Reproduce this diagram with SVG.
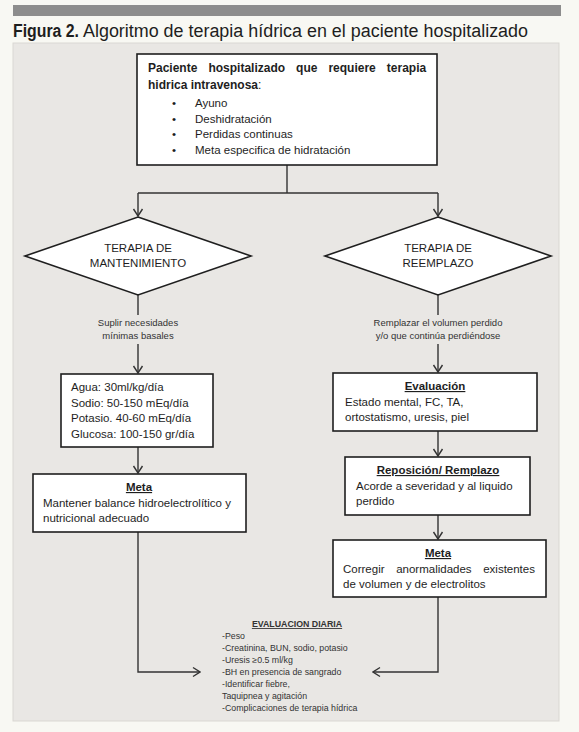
<svg xmlns="http://www.w3.org/2000/svg" width="579" height="732" viewBox="0 0 579 732">
<style>
text{font-family:"Liberation Sans",Arial,sans-serif;fill:#1e1e1e}
.box{fill:#ffffff;stroke:#1f1f1f;stroke-width:1.6}
.t{font-size:11.5px}
.b{font-weight:bold}
.u{text-decoration:underline}
.c{text-anchor:middle}
.lab{font-size:9.5px;fill:#333}
.sm{font-size:8.8px;fill:#333}
.con{fill:none;stroke:#333;stroke-width:1.4}
</style>
<defs>
<marker id="ar" viewBox="-9 -6 10 12" refX="0" refY="0" markerWidth="10" markerHeight="12" markerUnits="userSpaceOnUse" orient="auto">
<path d="M-7,-4.5 L0,0 L-7,4.5" fill="none" stroke="#333" stroke-width="1.4"/>
</marker>
</defs>
<rect x="0" y="0" width="579" height="732" fill="#f8f8f3"/>
<rect x="13" y="5" width="548" height="11" fill="#8d8d8d"/>
<text x="13" y="37" font-size="18" font-weight="bold" textLength="66" lengthAdjust="spacingAndGlyphs">Figura 2.</text>
<text x="83" y="37" font-size="18" textLength="445" lengthAdjust="spacingAndGlyphs">Algoritmo de terapia hídrica en el paciente hospitalizado</text>
<rect x="13" y="43" width="546" height="678" fill="#e9e7e4" stroke="#d9d7d3" stroke-width="1"/>

<g id="connectors">
<path class="con" d="M287,165 V193"/>
<path class="con" d="M138,193 H438"/>
<path class="con" d="M138,193 V216" marker-end="url(#ar)"/>
<path class="con" d="M438,193 V216" marker-end="url(#ar)"/>
<path class="con" d="M138,295 V315"/>
<path class="con" d="M138,344 V373" marker-end="url(#ar)"/>
<path class="con" d="M138,447 V473" marker-end="url(#ar)"/>
<path class="con" d="M138,532 V672 H200" marker-end="url(#ar)"/>
<path class="con" d="M438,295 V315"/>
<path class="con" d="M438,344 V372" marker-end="url(#ar)"/>
<path class="con" d="M438,431 V456" marker-end="url(#ar)"/>
<path class="con" d="M438,515 V539" marker-end="url(#ar)"/>
<path class="con" d="M438,597 V672 H373" marker-end="url(#ar)"/>
</g>

<g id="start">
<rect class="box" x="137" y="54" width="300" height="111"/>
<text class="b" font-size="12" y="72"><tspan x="148">Paciente</tspan><tspan x="208.4">hospitalizado</tspan><tspan x="296.1">que</tspan><tspan x="328.4">requiere</tspan><tspan x="386.8">terapia</tspan></text>
<text font-size="12" x="148" y="89"><tspan font-weight="bold">hidrica intravenosa</tspan>:</text>
<text class="t" x="172" y="107">•</text><text class="t" x="195" y="107">Ayuno</text>
<text class="t" x="172" y="122.5">•</text><text class="t" x="195" y="122.5">Deshidratación</text>
<text class="t" x="172" y="138">•</text><text class="t" x="195" y="138">Perdidas continuas</text>
<text class="t" x="172" y="153.5">•</text><text class="t" x="195" y="153.5">Meta especifica de hidratación</text>
</g>

<g id="mantenimiento">
<polygon class="box" points="138,217 251,256 138,295 25,256"/>
<text class="t c" x="138" y="252">TERAPIA DE</text>
<text class="t c" x="138" y="267">MANTENIMIENTO</text>
</g>

<g id="reemplazo">
<polygon class="box" points="438,217 551,256 438,295 325,256"/>
<text class="t c" x="438" y="252">TERAPIA DE</text>
<text class="t c" x="438" y="267">REEMPLAZO</text>
</g>

<g id="label-left">
<text class="lab c" x="138" y="326">Suplir necesidades</text>
<text class="lab c" x="138" y="339">mínimas basales</text>
</g>
<g id="label-right">
<text class="lab c" x="438" y="326">Remplazar el volumen perdido</text>
<text class="lab c" x="438" y="339">y/o que continúa perdiéndose</text>
</g>

<g id="requerimientos">
<rect class="box" x="61" y="374" width="152" height="73"/>
<text class="t" x="71" y="391">Agua: 30ml/kg/día</text>
<text class="t" x="71" y="406.5">Sodio: 50-150 mEq/día</text>
<text class="t" x="71" y="422">Potasio. 40-60 mEq/día</text>
<text class="t" x="71" y="437.5">Glucosa: 100-150 gr/día</text>
</g>

<g id="meta-left">
<rect class="box" x="33" y="474" width="213" height="58"/>
<text class="t b u c" x="139" y="491">Meta</text>
<text class="t" x="43" y="507">Mantener balance hidroelectrolítico y</text>
<text class="t" x="43" y="522">nutricional adecuado</text>
</g>

<g id="evaluacion">
<rect class="box" x="333" y="373" width="204" height="58"/>
<text class="t b u c" x="435" y="390">Evaluación</text>
<text class="t" x="345" y="406">Estado mental, FC, TA,</text>
<text class="t" x="345" y="421">ortostatismo, uresis, piel</text>
</g>

<g id="reposicion">
<rect class="box" x="345" y="457" width="185" height="58"/>
<text class="t b u c" x="438" y="474">Reposición/ Remplazo</text>
<text class="t" x="356" y="490">Acorde a severidad y al liquido</text>
<text class="t" x="356" y="505">perdido</text>
</g>

<g id="meta-right">
<rect class="box" x="333" y="540" width="213" height="57"/>
<text class="t b u c" x="438" y="557">Meta</text>
<text class="t" y="572.5"><tspan x="343">Corregir</tspan><tspan x="396.2">anormalidades</tspan><tspan x="483.2">existentes</tspan></text>
<text class="t" x="343" y="588">de volumen y de electrolitos</text>
</g>

<g id="evaluacion-diaria">
<text class="sm b u c" x="297" y="627">EVALUACION DIARIA</text>
<text class="sm" x="222" y="638.5">-Peso</text>
<text class="sm" x="222" y="650.5">-Creatinina, BUN, sodio, potasio</text>
<text class="sm" x="222" y="662.5">-Uresis ≥0.5 ml/kg</text>
<text class="sm" x="222" y="674.5">-BH en presencia de sangrado</text>
<text class="sm" x="222" y="686.5">-Identificar fiebre,</text>
<text class="sm" x="222" y="698.5">Taquipnea y agitación</text>
<text class="sm" x="222" y="710.5">-Complicaciones de terapia hídrica</text>
</g>
</svg>
